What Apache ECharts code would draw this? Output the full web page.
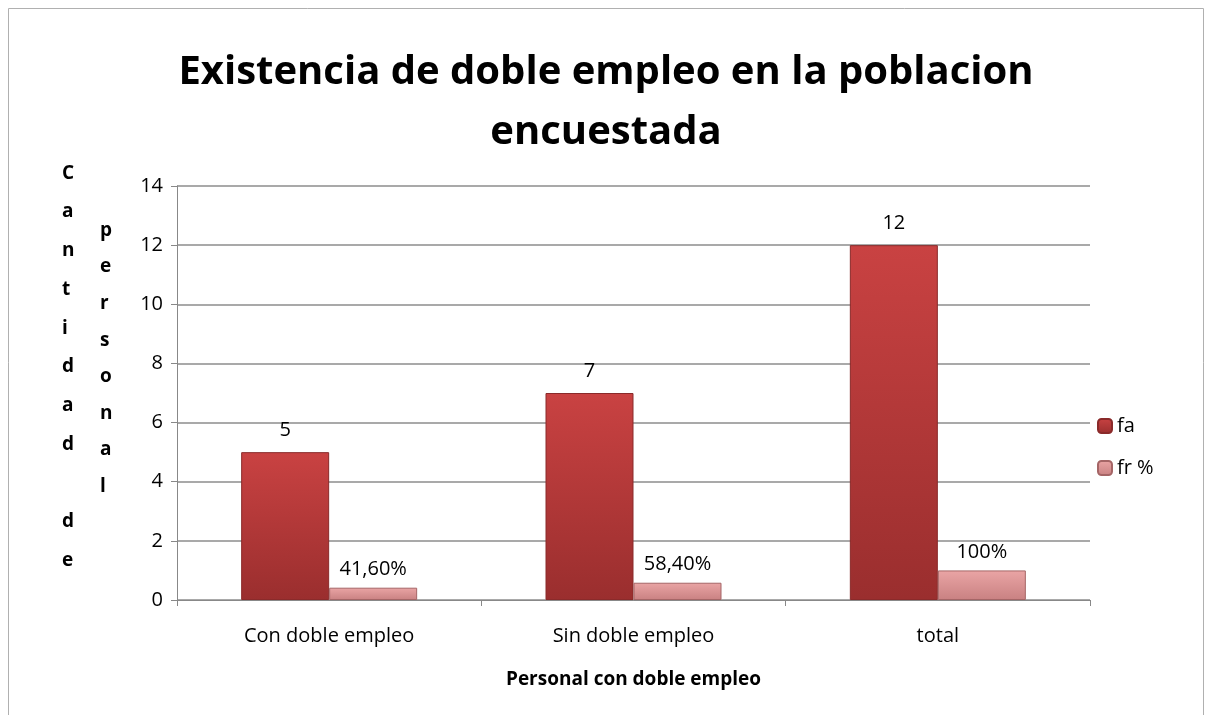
<!DOCTYPE html>
<html>
<head>
    <meta charset="utf-8">
    <script src="https://cdn.jsdelivr.net/npm/echarts@6/dist/echarts.min.js"></script>
    <style>
        html, body { margin: 0; padding: 0; background: #fff; }
        #container { width: 1212px; height: 715px; }
    </style>
</head>
<body>
<div id="container"></div>
<script>
    var categorias = ['Con doble empleo', 'Sin doble empleo', 'total'];
    var faValores = [5, 7, 12];
    var frValores = [0.416, 0.584, 1];
    var frEtiquetas = ['41,60%', '58,40%', '100%'];
    var yTicks = [0, 2, 4, 6, 8, 10, 12, 14];

    var fuente = 'Open Sans';
    var myChart = echarts.init(document.getElementById('container'));

    var option = {
        animation: false,
        textStyle: { fontFamily: fuente },
        title: {
            text: 'Existencia de doble empleo en la poblacion\nencuestada',
            left: 'center',
            top: 38,
            textStyle: { fontSize: 40, fontWeight: 'bold', color: '#000', lineHeight: 60, fontFamily: fuente }
        },
        legend: {
            orient: 'vertical',
            left: 1092,
            top: 411,
            itemWidth: 14,
            itemHeight: 14,
            itemGap: 22,
            textStyle: { fontSize: 20, color: '#000' },
            data: ['fa', 'fr %']
        },
        grid: { left: 177, right: 122, top: 186, bottom: 115 },
        xAxis: {
            type: 'category',
            data: categorias,
            name: 'Personal con doble empleo',
            nameLocation: 'middle',
            nameGap: 70,
            nameTextStyle: { fontSize: 19, fontWeight: 'bold', color: '#000' },
            axisLine: { lineStyle: { color: '#888' } },
            axisTick: { show: true, length: 6, lineStyle: { color: '#888' } },
            axisLabel: { fontSize: 20, color: '#000', margin: 26 }
        },
        yAxis: {
            type: 'value',
            min: yTicks[0],
            max: yTicks[yTicks.length - 1],
            interval: 2,
            axisLine: { show: true, lineStyle: { color: '#888' } },
            axisTick: { show: true, inside: false, length: 6, lineStyle: { color: '#888' } },
            axisLabel: { fontSize: 20, color: '#000', margin: 14 },
            splitLine: { lineStyle: { color: '#8c8c8c', width: 1.5 } }
        },
        series: [
            {
                name: 'fa',
                type: 'bar',
                data: faValores,
                barWidth: 88,
                barGap: '0%',
                itemStyle: {
                    color: new echarts.graphic.LinearGradient(0, 0, 0, 1, [
                        { offset: 0, color: '#c94242' },
                        { offset: 1, color: '#9a2e2e' }
                    ]),
                    borderColor: '#8a2a2a',
                    borderWidth: 1
                },
                label: { show: true, position: 'top', distance: 12, fontSize: 20, color: '#000' }
            },
            {
                name: 'fr %',
                type: 'bar',
                data: frValores,
                barWidth: 88,
                itemStyle: {
                    color: new echarts.graphic.LinearGradient(0, 0, 0, 1, [
                        { offset: 0, color: '#eaa5a5' },
                        { offset: 1, color: '#c98182' }
                    ]),
                    borderColor: '#a56566',
                    borderWidth: 1
                },
                label: {
                    show: true, position: 'top', distance: 8, fontSize: 20, color: '#000',
                    formatter: function (p) { return frEtiquetas[p.dataIndex]; }
                }
            }
        ],
        graphic: [
            {
                type: 'rect',
                shape: { x: 8.5, y: 8.5, width: 1195, height: 720 },
                style: { fill: 'none', stroke: '#b0b0b0', lineWidth: 1 },
                silent: true
            },
            {
                type: 'text',
                left: 62,
                top: 154,
                style: {
                    text: 'C\na\nn\nt\ni\nd\na\nd\n\nd\ne',
                    fontSize: 19, fontWeight: 'bold', lineHeight: 38.7,
                    fill: '#000', fontFamily: fuente, align: 'center'
                }
            },
            {
                type: 'text',
                left: 100,
                top: 212,
                style: {
                    text: 'p\ne\nr\ns\no\nn\na\nl',
                    fontSize: 19, fontWeight: 'bold', lineHeight: 36.6,
                    fill: '#000', fontFamily: fuente, align: 'center'
                }
            }
        ]
    };
    myChart.setOption(option);
</script>
</body>
</html>
